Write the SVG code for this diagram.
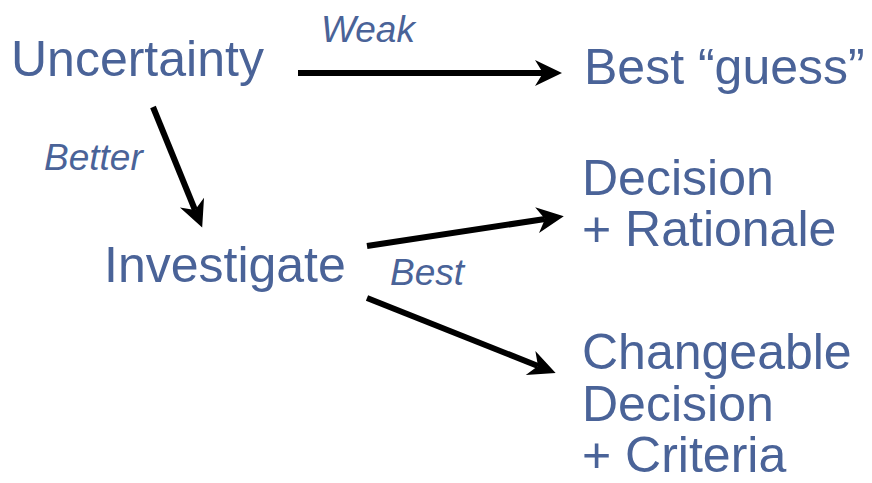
<svg xmlns="http://www.w3.org/2000/svg" width="872" height="483" viewBox="0 0 872 483">
<style>
.t{font-family:"Liberation Sans",Arial,sans-serif;font-size:50px;fill:#4a6398}
.l{font-family:"Liberation Sans",Arial,sans-serif;font-size:37px;font-style:italic;fill:#4a6398}
.c{stroke:#000;stroke-width:6;fill:none;marker-end:url(#ah)}
</style>
<defs>
<marker id="ah" markerUnits="userSpaceOnUse" markerWidth="30" markerHeight="30" refX="8" refY="0" viewBox="-1 -15 30 30" orient="auto" overflow="visible">
<path d="M0,-13 L27,0 L0,13 L8,0 Z" fill="#000"/>
</marker>
</defs>
<rect width="872" height="483" fill="#fff"/>
<g id="connectors">
<line class="c" x1="298" y1="73" x2="543" y2="73"/>
<line class="c" x1="153" y1="107" x2="195" y2="210"/>
<line class="c" x1="367" y1="246" x2="545" y2="219"/>
<line class="c" x1="367" y1="298" x2="538" y2="366"/>
</g>
<g id="label-weak"><text class="l" x="321" y="42">Weak</text></g>
<g id="label-better"><text class="l" x="44" y="170">Better</text></g>
<g id="label-best"><text class="l" x="390" y="285">Best</text></g>
<g id="uncertainty"><text class="t" x="11" y="76">Uncertainty</text></g>
<g id="best-guess"><text class="t" x="584" y="84">Best “guess”</text></g>
<g id="investigate"><text class="t" x="104" y="282">Investigate</text></g>
<g id="decision-rationale"><text class="t" x="582" y="195">Decision<tspan x="582" y="246">+ Rationale</tspan></text></g>
<g id="changeable-decision"><text class="t" x="582" y="369">Changeable<tspan x="582" y="421">Decision</tspan><tspan x="582" y="472">+ Criteria</tspan></text></g>
</svg>
